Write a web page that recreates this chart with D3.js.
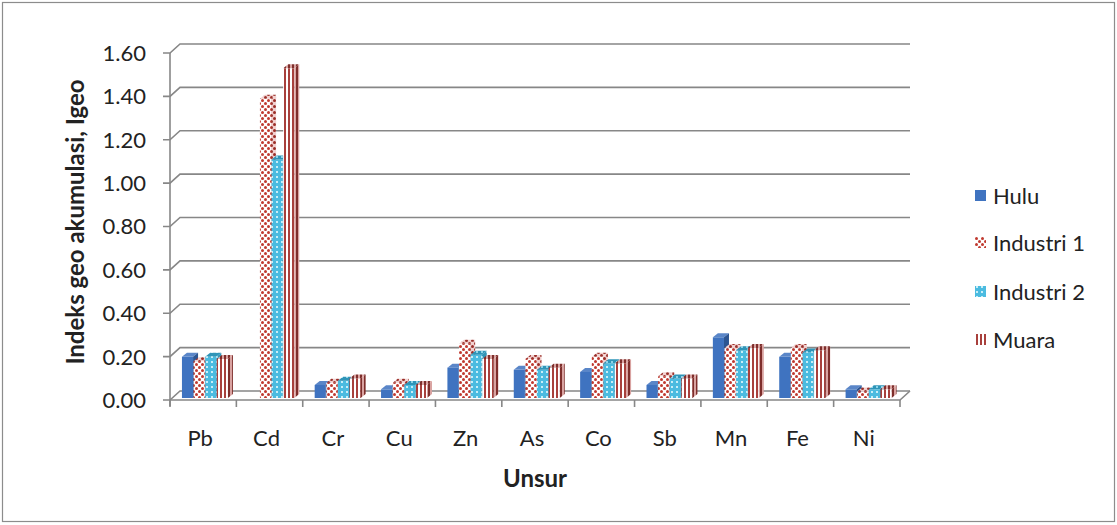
<!DOCTYPE html>
<html><head><meta charset="utf-8">
<script src="https://cdn.jsdelivr.net/npm/d3@7"></script>
<style>body{margin:0;background:#fff}svg{display:block}</style>
</head><body>
<script>
const categories = ["Pb","Cd","Cr","Cu","Zn","As","Co","Sb","Mn","Fe","Ni"];
const seriesNames = ["Hulu","Industri 1","Industri 2","Muara"];
const hulu      = [0.19,0.00,0.06,0.04,0.14,0.13,0.12,0.06,0.28,0.19,0.04];
const industri1 = [0.17,1.38,0.07,0.07,0.25,0.18,0.19,0.10,0.23,0.23,0.03];
const industri2 = [0.19,1.10,0.08,0.06,0.20,0.13,0.16,0.09,0.22,0.21,0.04];
const muara     = [0.18,1.52,0.09,0.06,0.18,0.14,0.16,0.09,0.23,0.22,0.04];
const yTicks = [0,0.2,0.4,0.6,0.8,1.0,1.2,1.4,1.6];
const values = [hulu, industri1, industri2, muara];

const W=1117,H=525;
const svg=d3.select("body").append("svg").attr("width",W).attr("height",H);
const defs=svg.append("defs");
const font="Lato, 'Open Sans', sans-serif";

// patterns
const p1=defs.append("pattern").attr("id","pInd1").attr("patternUnits","userSpaceOnUse").attr("width",6).attr("height",6);
p1.append("rect").attr("width",6).attr("height",6).attr("fill","#fff");
p1.append("circle").attr("cx",1.5).attr("cy",1.5).attr("r",1.5).attr("fill","#c0392f");
p1.append("circle").attr("cx",4.5).attr("cy",4.5).attr("r",1.5).attr("fill","#c0392f");
const p1s=defs.append("pattern").attr("id","pInd1s").attr("patternUnits","userSpaceOnUse").attr("width",6).attr("height",6);
p1s.append("rect").attr("width",6).attr("height",6).attr("fill","#f1d0cf");
p1s.append("circle").attr("cx",1.5).attr("cy",1.5).attr("r",1.5).attr("fill","#9a2e28");
p1s.append("circle").attr("cx",4.5).attr("cy",4.5).attr("r",1.5).attr("fill","#9a2e28");
const p2=defs.append("pattern").attr("id","pInd2").attr("patternUnits","userSpaceOnUse").attr("width",5).attr("height",5);
p2.append("rect").attr("width",5).attr("height",5).attr("fill","#4bbbe0");
p2.append("rect").attr("x",1).attr("y",1).attr("width",2).attr("height",2).attr("fill","#c8eef8");
const p2s=defs.append("pattern").attr("id","pInd2s").attr("patternUnits","userSpaceOnUse").attr("width",5).attr("height",5);
p2s.append("rect").attr("width",5).attr("height",5).attr("fill","#2f95b8");
p2s.append("rect").attr("x",1).attr("y",1).attr("width",2).attr("height",2).attr("fill","#8fd3e8");
const p3=defs.append("pattern").attr("id","pMua").attr("patternUnits","userSpaceOnUse").attr("width",4).attr("height",4);
p3.append("rect").attr("width",4).attr("height",4).attr("fill","#fff");
p3.append("rect").attr("width",2).attr("height",4).attr("fill","#a8403c");
const p3s=defs.append("pattern").attr("id","pMuas").attr("patternUnits","userSpaceOnUse").attr("width",4).attr("height",4);
p3s.append("rect").attr("width",4).attr("height",4).attr("fill","#d9a3a1");
p3s.append("rect").attr("width",2).attr("height",4).attr("fill","#7e2e2b");

const fills=[
 {front:"#3f73c0", top:"#5a86c8", side:"#2c5592"},
 {front:"url(#pInd1)", top:"url(#pInd1s)", side:"url(#pInd1s)"},
 {front:"url(#pInd2)", top:"url(#pInd2s)", side:"url(#pInd2s)"},
 {front:"url(#pMua)", top:"url(#pMuas)", side:"url(#pMuas)"}
];

// outer border
svg.append("rect").attr("x",2.5).attr("y",2.5).attr("width",W-5).attr("height",H-6)
  .attr("fill","#fff").attr("stroke","#8c8c8c").attr("stroke-width",1.2);

const x0=170,x1=900, DX=10, DY=9;
const y=d3.scaleLinear().domain([0,1.6]).range([400,53]);
const x=d3.scaleBand().domain(categories).range([x0,x1]).paddingInner(0.3).paddingOuter(0.15);
const xs=d3.scaleBand().domain(seriesNames).range([0,x.bandwidth()]);
const grid="#878787";

// gridlines (back wall + side wall)
const g=svg.append("g");
yTicks.forEach(t=>{
  const yf=y(t);
  g.append("path").attr("d",`M${x0-7},${yf}L${x0},${yf}L${x0+DX},${yf-DY}L${x1+DX},${yf-DY}`)
   .attr("fill","none").attr("stroke",grid).attr("stroke-width",1.6);
  g.append("text").attr("x",146).attr("y",yf).attr("dy","0.36em").attr("text-anchor","end")
   .attr("font-family",font).attr("font-size",22).attr("fill","#222").text(t.toFixed(2));
});
// vertical axis line
g.append("line").attr("x1",x0).attr("x2",x0).attr("y1",y(1.6)).attr("y2",y(0)+6)
 .attr("stroke",grid).attr("stroke-width",1.6);
// floor
g.append("path").attr("d",`M${x0},${y(0)}L${x1},${y(0)}L${x1+DX},${y(0)-DY}`)
 .attr("fill","none").attr("stroke",grid).attr("stroke-width",1.6);
// category ticks
const ticksX=categories.map((c,i)=>x0+i*(x1-x0)/categories.length).concat([x1]);
ticksX.forEach(tx=>g.append("line").attr("x1",tx).attr("x2",tx).attr("y1",y(0)).attr("y2",y(0)+7)
  .attr("stroke",grid).attr("stroke-width",1.6));
categories.forEach(c=>{
  g.append("text").attr("x",x(c)+x.bandwidth()/2-3).attr("y",446).attr("text-anchor","middle")
   .attr("font-family",font).attr("font-size",22).attr("fill","#222").text(c);
});

// bars
const bx=2, by=2, bdx=5, bdy=4;
const bars=svg.append("g");
categories.forEach((c,i)=>{
  seriesNames.forEach((s,j)=>{
    const v=values[j][i];
    const w=xs.bandwidth()-0.5;
    const xl=x(c)+xs(s)+bx, base=y(0)-by, top=y(v)-by;
    if(v<=0) return;
    const f=fills[j];
    bars.append("rect").attr("x",xl).attr("y",top).attr("width",w).attr("height",base-top).attr("fill",f.front);
    bars.append("path").attr("d",`M${xl},${top}L${xl+w},${top}L${xl+w+bdx},${top-bdy}L${xl+bdx},${top-bdy}Z`).attr("fill",f.top);
    bars.append("path").attr("d",`M${xl+w},${top}L${xl+w+bdx},${top-bdy}L${xl+w+bdx},${base-bdy}L${xl+w},${base}Z`).attr("fill",f.side);
  });
});

// axis titles
svg.append("text").attr("transform","translate(84,222) rotate(-90)").attr("text-anchor","middle")
 .attr("font-family",font).attr("font-size",24).attr("font-weight","bold").attr("fill","#222")
 .text("Indeks geo akumulasi, Igeo");
svg.append("text").attr("x",535).attr("y",487).attr("text-anchor","middle")
 .attr("font-family",font).attr("font-size",24).attr("font-weight","bold").attr("fill","#222").text("Unsur");

// legend
const legY=[196,243,292,340];
const lg=svg.append("g");
seriesNames.forEach((s,j)=>{
  lg.append("rect").attr("x",975).attr("y",legY[j]-6).attr("width",11).attr("height",11).attr("fill",fills[j].front);
  lg.append("text").attr("x",993).attr("y",legY[j]).attr("dy","0.36em")
   .attr("font-family",font).attr("font-size",22).attr("fill","#222").text(s);
});
</script>
</body></html>
